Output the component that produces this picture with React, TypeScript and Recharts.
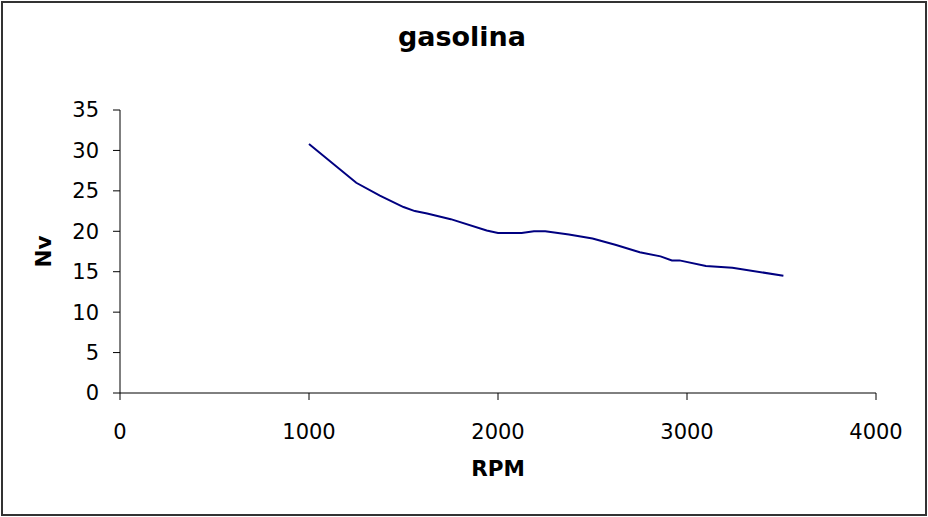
import React from "react";
import { LineChart, Line, XAxis, YAxis, Label } from "recharts";

const rpm = [1000, 1250, 1375, 1500, 1560, 1625, 1750, 1940, 2000, 2125, 2190, 2250, 2375, 2500, 2625, 2750, 2860, 2920, 2960, 3100, 3240, 3510];
const nv = [30.8, 26.0, 24.4, 23.0, 22.5, 22.2, 21.5, 20.1, 19.8, 19.8, 20.0, 20.0, 19.6, 19.1, 18.3, 17.4, 16.9, 16.4, 16.4, 15.7, 15.5, 14.5];
const xTicks = [0, 1000, 2000, 3000, 4000];
const yTicks = [0, 5, 10, 15, 20, 25, 30, 35];
const title = "gasolina";
const xLabel = "RPM";
const yLabel = "Nv";

const data = rpm.map((r, i) => ({ rpm: r, nv: nv[i] }));

const FONT = "'DejaVu Sans', Verdana, sans-serif";

const YLabelContent = (props: any) => {
  const vb = props.viewBox || { x: 0, y: 110, width: 120, height: 283 };
  const cx = 43;
  const cy = vb.y + vb.height / 2;
  return (
    <text
      x={cx}
      y={cy}
      transform={`rotate(-90, ${cx}, ${cy})`}
      textAnchor="middle"
      dominantBaseline="central"
      fontFamily={FONT}
      fontWeight="bold"
      fontSize={21.5}
      fill="#000"
    >
      {yLabel}
    </text>
  );
};

const XLabelContent = (props: any) => {
  const vb = props.viewBox || { x: 120, y: 393, width: 756, height: 124 };
  const cx = vb.x + vb.width / 2;
  return (
    <text
      x={cx}
      y={468}
      textAnchor="middle"
      dominantBaseline="central"
      fontFamily={FONT}
      fontWeight="bold"
      fontSize={21.5}
      fill="#000"
    >
      {xLabel}
    </text>
  );
};

export default function App() {
  return (
    <div style={{ position: "absolute", left: 0, top: 0, width: 928, height: 517, background: "#fff" }}>
      <div
        style={{
          position: "absolute",
          left: 1,
          top: 1,
          width: 926,
          height: 515,
          border: "2px solid #333",
          boxSizing: "border-box",
        }}
      />
      <div
        style={{
          position: "absolute",
          left: 0,
          top: 20,
          width: 924,
          textAlign: "center",
          fontFamily: FONT,
          fontWeight: "bold",
          fontSize: 27,
          lineHeight: "34px",
          color: "#000",
        }}
      >
        {title}
      </div>
      <div style={{ position: "absolute", left: 0, top: 0 }}>
        <LineChart
          width={928}
          height={517}
          data={data}
          margin={{ top: 110, right: 52, bottom: 0, left: 0 }}
        >
          <XAxis
            dataKey="rpm"
            type="number"
            domain={[0, 4000]}
            ticks={xTicks}
            height={124}
            tickSize={7}
            tickMargin={24}
            stroke="#000"
            tick={{ fill: "#000", fontSize: 21, fontFamily: FONT }}
            interval={0}
          >
            <Label content={<XLabelContent />} />
          </XAxis>
          <YAxis
            type="number"
            domain={[0, 35]}
            ticks={yTicks}
            width={120}
            tickSize={7}
            tickMargin={14}
            stroke="#000"
            tick={{ fill: "#000", fontSize: 21, fontFamily: FONT }}
            interval={0}
          >
            <Label content={<YLabelContent />} />
          </YAxis>
          <Line
            dataKey="nv"
            type="linear"
            stroke="#000080"
            strokeWidth={2}
            dot={false}
            isAnimationActive={false}
          />
        </LineChart>
      </div>
    </div>
  );
}
